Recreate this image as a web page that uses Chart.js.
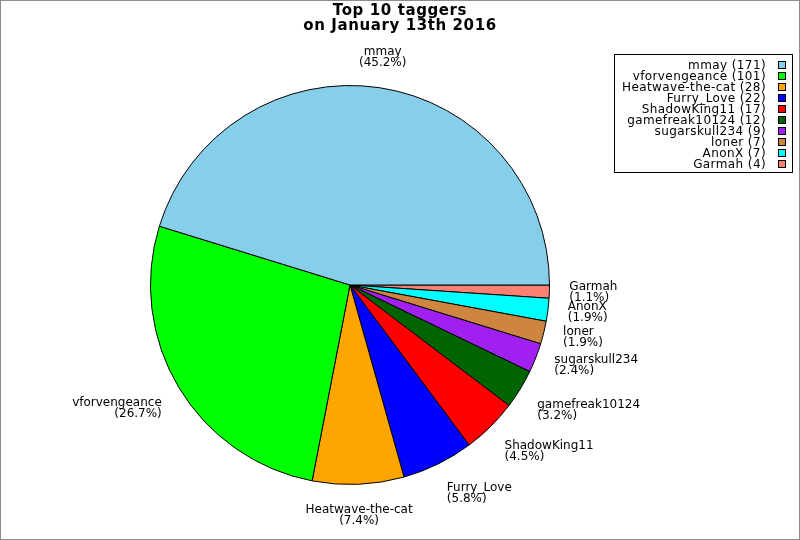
<!DOCTYPE html>
<html>
<head>
<meta charset="utf-8">
<script src="https://cdn.jsdelivr.net/npm/chart.js@4/dist/chart.umd.min.js"></script>
<style>
  body { margin: 0; background: #fff; }
  #wrap { position: relative; width: 800px; height: 540px; font-family: "DejaVu Sans", sans-serif; }
  #grafico { position: absolute; left: 0; top: 0; }
  #frame { position: absolute; left: 0; top: 0; width: 800px; height: 540px; box-sizing: border-box; border: 1px solid #8c8c8c; pointer-events: none; }
  #titulo { position: absolute; left: 0; top: 3px; width: 800px; text-align: center; font-weight: bold; font-size: 15px; line-height: 15px; letter-spacing: 0.6px; color: #000; }
  #legenda { position: absolute; left: 614px; top: 54px; width: 179px; height: 119px; box-sizing: border-box; border: 1px solid #000; }
  .linha { position: absolute; right: 26px; height: 11px; line-height: 11px; font-size: 12px; letter-spacing: 0.4px; white-space: nowrap; text-align: right; }
  .caixa { position: absolute; left: 163px; width: 8px; height: 8px; box-sizing: border-box; border: 1px solid #000; }
</style>
</head>
<body>
<div id="wrap">
  <canvas id="grafico" width="800" height="540"></canvas>
  <div id="titulo">Top 10 taggers<br>on January 13th 2016</div>
  <div id="legenda"></div>
  <div id="frame"></div>
</div>
<script>
const taggers = ['mmay', 'vforvengeance', 'Heatwave-the-cat', 'Furry_Love', 'ShadowKing11',
                 'gamefreak10124', 'sugarskull234', 'loner', 'AnonX', 'Garmah'];
const counts = [171, 101, 28, 22, 17, 12, 9, 7, 7, 4];
const colors = ['#87ceeb', '#00ff00', '#ffa500', '#0000ff', '#ff0000',
                '#006400', '#a020f0', '#cd853f', '#00ffff', '#fa8072'];

const total = counts.reduce((a, b) => a + b, 0);

// legend (same order as the lists)
const legenda = document.getElementById('legenda');
taggers.forEach(function(nome, i) {
  let linha = document.createElement('div');
  linha.className = 'linha';
  linha.style.top = (5 + i * 11) + 'px';
  linha.textContent = nome + ' (' + counts[i] + ')';
  legenda.appendChild(linha);
  let caixa = document.createElement('div');
  caixa.className = 'caixa';
  caixa.style.top = (6 + i * 11) + 'px';
  caixa.style.background = colors[i];
  legenda.appendChild(caixa);
});

// pie goes counter-clockwise from 3 o'clock in the picture,
// so feed the slices reversed and let Chart.js go clockwise
const nomesInv = taggers.slice().reverse();
const valoresInv = counts.slice().reverse();
const coresInv = colors.slice().reverse();

const rotulos = {
  id: 'rotulos',
  afterDatasetsDraw(chart) {
    const ctx = chart.ctx;
    const meta = chart.getDatasetMeta(0);
    ctx.save();
    ctx.font = '12px "DejaVu Sans"';
    ctx.fillStyle = '#000';
    ctx.textBaseline = 'middle';
    const lh = 11;
    meta.data.forEach(function(arc, i) {
      const p = arc.getProps(['x', 'y', 'startAngle', 'endAngle', 'outerRadius'], true);
      const meio = (p.startAngle + p.endAngle) / 2;
      const c = Math.cos(meio), s = Math.sin(meio);
      const r = p.outerRadius * 1.1;
      const px = p.x + c * r, py = p.y + s * r;
      const linhas = [nomesInv[i], '(' + (valoresInv[i] / total * 100).toFixed(1) + '%)'];
      if (Math.abs(c) < 0.3) ctx.textAlign = 'center';
      else ctx.textAlign = c > 0 ? 'left' : 'right';
      let topo;
      if (s > 0.45) topo = py;
      else if (s < -0.45) topo = py - lh * 2;
      else topo = py - lh;
      linhas.forEach(function(t, k) {
        ctx.fillText(t, px, topo + lh / 2 + k * lh);
      });
    });
    ctx.restore();
  }
};

const ctx = document.getElementById('grafico').getContext('2d');
new Chart(ctx, {
  type: 'pie',
  data: {
    labels: nomesInv,
    datasets: [{
      data: valoresInv,
      backgroundColor: coresInv,
      borderColor: '#000',
      borderWidth: 1
    }]
  },
  options: {
    responsive: false,
    animation: false,
    rotation: 90,
    layout: { padding: { top: 85, bottom: 55, left: 150, right: 250 } },
    plugins: {
      legend: { display: false },
      tooltip: { enabled: false }
    }
  },
  plugins: [rotulos]
});
</script>
</body>
</html>
